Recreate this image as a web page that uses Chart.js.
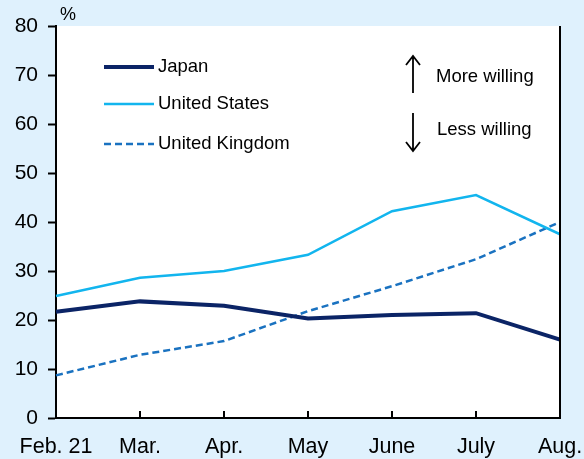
<!DOCTYPE html>
<html>
<head>
<meta charset="utf-8">
<script src="https://cdn.jsdelivr.net/npm/chart.js@4/dist/chart.umd.min.js"></script>
<style>
  html, body { margin: 0; padding: 0; background: #dff1fd; }
  #wrap { width: 584px; height: 459px; }
</style>
</head>
<body>
<div id="wrap"><canvas id="chart" width="584" height="459"></canvas></div>
<script>
const months = ['Feb. 21', 'Mar.', 'Apr.', 'May', 'June', 'July', 'Aug.'];
const japan = [21.7, 23.8, 22.9, 20.3, 21.0, 21.4, 16.0];
const unitedStates = [24.9, 28.6, 30.0, 33.3, 42.2, 45.5, 37.5];
const unitedKingdom = [8.7, 12.9, 15.7, 21.8, 26.9, 32.4, 40.0];
const yTicks = [0, 10, 20, 30, 40, 50, 60, 70, 80];

const font = 'Liberation Sans, Arial, sans-serif';

// white plot area, right border, inner x ticks, legend and notes
const decorations = {
  id: 'decorations',
  beforeDraw(chart) {
    const { ctx, chartArea: a } = chart;
    ctx.save();
    ctx.fillStyle = '#ffffff';
    ctx.fillRect(a.left, a.top, a.right - a.left, a.bottom - a.top);
    ctx.restore();
  },
  afterDraw(chart) {
    const { ctx, chartArea: a } = chart;
    const x = chart.scales.x;
    ctx.save();
    ctx.strokeStyle = '#000';
    ctx.lineWidth = 2;
    ctx.beginPath();
    ctx.moveTo(a.right, a.top);
    ctx.lineTo(a.right, a.bottom + 1);
    x.ticks.forEach((t, i) => {
      if (i === 0 || i === x.ticks.length - 1) return;
      const px = x.getPixelForTick(i);
      ctx.moveTo(px, a.bottom);
      ctx.lineTo(px, a.bottom - 7);
    });
    ctx.stroke();

    ctx.fillStyle = '#000';
    ctx.font = '18px ' + font;
    ctx.textBaseline = 'middle';
    ctx.fillText('%', 60, 15);

    // legend
    const rows = [67, 104, 144];
    ctx.font = '18.5px ' + font;
    chart.data.datasets.forEach((ds, i) => {
      ctx.strokeStyle = ds.borderColor;
      ctx.lineWidth = ds.borderWidth;
      ctx.setLineDash(ds.borderDash || []);
      ctx.beginPath();
      ctx.moveTo(104, rows[i]);
      ctx.lineTo(154, rows[i]);
      ctx.stroke();
      ctx.setLineDash([]);
      ctx.fillStyle = '#000';
      ctx.fillText(ds.label, 158, rows[i]);
    });

    // arrows
    ctx.strokeStyle = '#000';
    ctx.lineWidth = 1.8;
    ctx.beginPath();
    ctx.moveTo(413, 93); ctx.lineTo(413, 56);
    ctx.moveTo(406, 65); ctx.lineTo(413, 56); ctx.lineTo(420, 65);
    ctx.moveTo(413, 113); ctx.lineTo(413, 151);
    ctx.moveTo(406, 142); ctx.lineTo(413, 151); ctx.lineTo(420, 142);
    ctx.stroke();
    ctx.fillText('More willing', 436, 77);
    ctx.fillText('Less willing', 437, 130);
    ctx.restore();
  }
};

new Chart(document.getElementById('chart'), {
  type: 'line',
  data: {
    labels: months,
    datasets: [
      { label: 'Japan', data: japan, borderColor: '#0b2466', borderWidth: 4 },
      { label: 'United States', data: unitedStates, borderColor: '#12b5ee', borderWidth: 2.5 },
      { label: 'United Kingdom', data: unitedKingdom, borderColor: '#1a72c0', borderWidth: 2.5, borderDash: [7, 4] },
    ],
  },
  options: {
    responsive: false,
    animation: false,
    layout: { padding: { top: 26, right: 24, left: 0, bottom: 0 } },
    elements: { point: { radius: 0 }, line: { tension: 0 } },
    plugins: { legend: { display: false }, tooltip: { enabled: false } },
    scales: {
      x: {
        offset: false,
        afterFit(scale) {
          scale.height = 41;
          scale.paddingLeft = 0;
          scale.paddingRight = 0;
        },
        grid: { display: true, drawOnChartArea: false, drawTicks: false },
        border: { color: '#000', width: 2 },
        ticks: { color: '#000', font: { family: font, size: 21.5 }, padding: 16, maxRotation: 0, autoSkip: false },
      },
      y: {
        min: 0,
        max: 80,
        afterFit(scale) {
          scale.width = 56;
          scale.paddingTop = 0;
          scale.paddingBottom = 0;
        },
        afterBuildTicks(scale) { scale.ticks = yTicks.map(v => ({ value: v })); },
        grid: { drawOnChartArea: false, drawTicks: true, tickLength: 8, color: '#000', tickWidth: 2 },
        border: { color: '#000', width: 2 },
        ticks: { color: '#000', font: { family: font, size: 21 }, padding: 10 },
      },
    },
  },
  plugins: [decorations],
});
</script>
</body>
</html>
